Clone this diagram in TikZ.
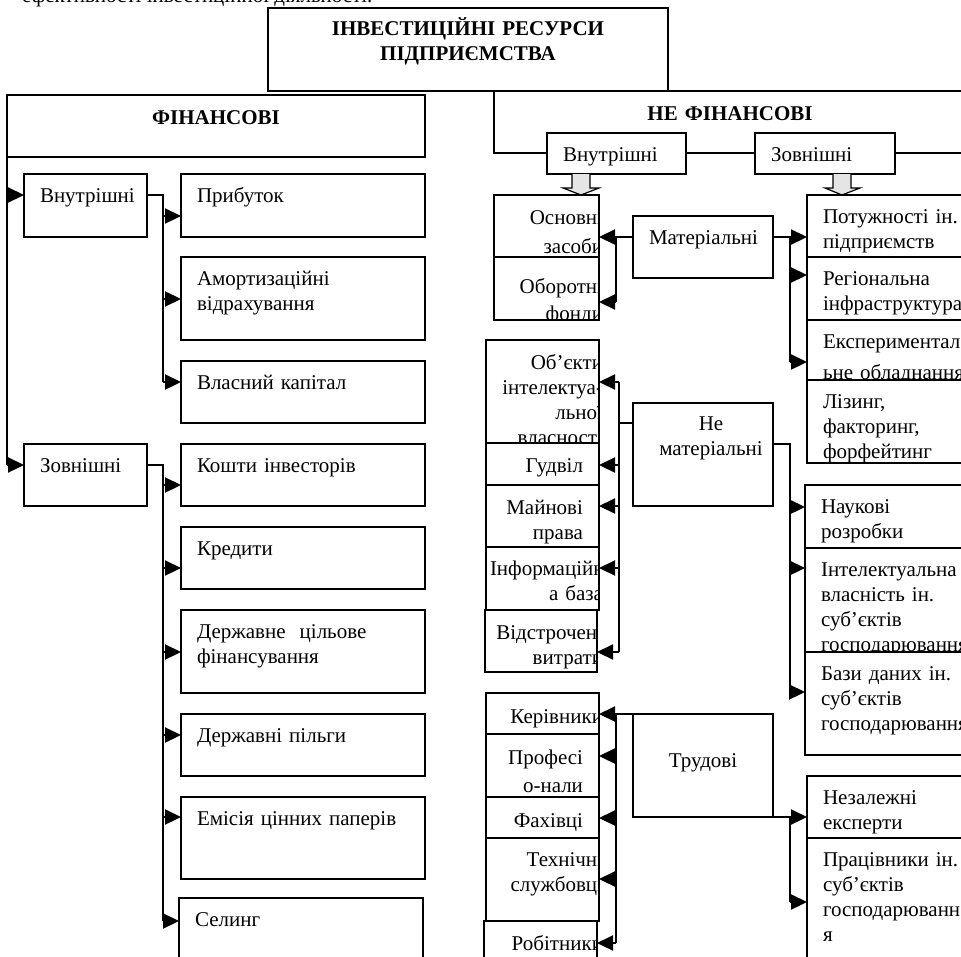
\documentclass[tikz,border=0pt]{standalone}
\usepackage{fontspec}
\setmainfont{Liberation Serif}
\usetikzlibrary{fit}
\usetikzlibrary{arrows.meta}
\tikzset{
    box/.style={draw, line width=2.2pt, fill=white, inner sep=0pt, outer sep=0pt},
    txt/.style={font=\fontsize{21}{25}\selectfont, inner sep=0pt, draw=none, fill=none},
    tl/.style={path picture={\node[txt, anchor=base west, align=left] at ([shift={(16pt,-28pt)}]path picture bounding box.north west) {#1};}},
    tr/.style 2 args={path picture={\node[txt, anchor=base east, align=right] at ([shift={#1}]path picture bounding box.north east) {#2};}},
    tc/.style 2 args={path picture={\node[txt, anchor=base, align=center] at ([shift={#1}]path picture bounding box.north) {#2};}},
    conn/.style={line width=2.2pt},
    conn arrow/.style={line width=2.2pt, -{Triangle[length=16pt,width=15pt]}},
    block arrow/.style={draw, line width=1.2pt, fill=gray!20}
}
\begin{document}
\begin{tikzpicture}[x=1pt, y=-1pt]
    \useasboundingbox (0,0) rectangle (961,956);
    \node[txt, anchor=base west] (intro) at (22,2) {ефективності інвестиційної діяльності.};
    \node[box, fit={(494,91) (966,153)}, tc={(0pt,-29pt)}{\textbf{НЕ ФІНАНСОВІ}}] (nefin) {};
    \node[box, fit={(268,8) (668,91)}, tc={(0pt,-27pt)}{\textbf{ІНВЕСТИЦІЙНІ РЕСУРСИ}\\\textbf{ПІДПРИЄМСТВА}}] (res) {};
    \node[box, fit={(7,95) (425,157)}, tc={(0pt,-29pt)}{\textbf{ФІНАНСОВІ}}] (fin) {};

    % financial
    \node[box, fit={(24,174) (147,237)}, tl={Внутрішні}] (fvn) {};
    \node[box, fit={(24,444) (147,506)}, tl={Зовнішні}] (fzov) {};
    \node[box, fit={(181,174) (425,237)}, tl={Прибуток}] (prib) {};
    \node[box, fit={(181,257) (425,340)}, tl={Амортизаційні\\відрахування}] (amort) {};
    \node[box, fit={(181,361) (425,423)}, tl={Власний капітал}] (vlas) {};
    \node[box, fit={(181,444) (425,506)}, tl={Кошти інвесторів}] (kosh) {};
    \node[box, fit={(181,527) (425,589)}, tl={Кредити}] (kred) {};
    \node[box, fit={(181,610) (425,693)}, tl={Державне\ \ цільове\\фінансування}] (dcf) {};
    \node[box, fit={(181,714) (425,776)}, tl={Державні пільги}] (dpil) {};
    \node[box, fit={(181,797) (425,879)}, tl={Емісія цінних паперів}] (emis) {};
    \node[box, fit={(179,898) (423,975)}, tl={Селинг}] (sel) {};
    \draw[conn] (fin.south west) -- (7,465)
        (7,195) edge[conn arrow] (fvn.west |- 0,195)
        (7,465) edge[conn arrow] (fzov.west |- 0,465);
    \draw[conn] (fvn.east |- 0,195) -| (163,382)
        (163,216) edge[conn arrow] (prib.west |- 0,216)
        (163,299) edge[conn arrow] (amort.west |- 0,299)
        (163,382) edge[conn arrow] (vlas.west |- 0,382);
    \draw[conn] (fzov.east |- 0,465) -| (163,921)
        (163,485) edge[conn arrow] (kosh.west |- 0,485)
        (163,568) edge[conn arrow] (kred.west |- 0,568)
        (163,652) edge[conn arrow] (dcf.west |- 0,652)
        (163,735) edge[conn arrow] (dpil.west |- 0,735)
        (163,817) edge[conn arrow] (emis.west |- 0,817)
        (163,921) edge[conn arrow] (sel.west |- 0,921);

    % non financial
    \node[box, fit={(547,133) (686,174)}, tl={Внутрішні}] (nvn) {};
    \node[box, fit={(755,133) (895,174)}, tl={Зовнішні}] (nzov) {};
    \draw[block arrow] (572,174) -- (572,188) -- (563,188) -- (581,195) -- (599,188) -- (590,188) -- (590,174);
    \draw[block arrow] (833,174) -- (833,188) -- (825,188) -- (842,195) -- (860,188) -- (851,188) -- (851,174);

    \node[box, fit={(494,195) (599,257)}, tr={(4pt,-29pt)}{Основні\\[4pt]засоби}] (osn) {};
    \node[box, fit={(494,257) (599,320)}, tr={(4pt,-36pt)}{Оборотні\\[2pt]фонди}] (obor) {};
    \node[box, fit={(633,216) (773,278)}, tl={Матеріальні}] (mat) {};
    \node[box, fit={(807,195) (975,257)}, tl={Потужності ін.\\підприємств}] (potu) {};
    \node[box, fit={(807,257) (975,320)}, tl={Регіональна\\інфраструктура}] (reg) {};
    \node[box, fit={(807,320) (975,380)}, tl={Експериментал\\[6pt]ьне обладнання}] (eksp) {};
    \node[box, fit={(807,380) (975,463)}, tl={Лізинг,\\факторинг,\\форфейтинг}] (liz) {};
    \draw[conn arrow] (mat.west |- 0,237) -- (osn.east |- 0,237);
    \draw[conn] (616,237) -- (616,302) edge[conn arrow] (obor.east |- 0,302);
    \draw[conn arrow] (mat.east |- 0,237) -- (potu.west |- 0,237);
    \draw[conn] (790,237) -- (790,362)
        (790,275) edge[conn arrow] (reg.west |- 0,275)
        (790,362) edge[conn arrow] (eksp.west |- 0,362);

    \node[box, fit={(486,340) (599,443)}, tr={(4pt,-29pt)}{Об’єкти\\інтелектуа-\\льної\\власності}] (obj) {};
    \node[box, fit={(486,443) (599,485)}, tr={(-16pt,-29pt)}{Гудвіл}] (gudv) {};
    \node[box, fit={(486,485) (599,547)}, tr={(-16pt,-29pt)}{Майнові\\права}] (majn) {};
    \node[box, fit={(486,547) (599,610)}, tr={(4pt,-28pt)}{Інформаційн\\а база}] (inf) {};
    \node[box, fit={(485,610) (597,672)}, tr={(6pt,-29pt)}{Відстрочені\\витрати}] (vids) {};
    \node[box, fit={(633,403) (773,506)}, tc={(8pt,-27pt)}{Не\\матеріальні}] (nemat) {};
    \node[box, fit={(805,485) (975,548)}, tl={Наукові\\розробки}] (nauk) {};
    \node[box, fit={(805,548) (975,652)}, tl={Інтелектуальна\\власність ін.\\суб’єктів\\господарювання}] (intel) {};
    \node[box, fit={(805,652) (975,755)}, tl={Бази даних ін.\\суб’єктів\\господарювання}] (bazy) {};
    \draw[conn] (nemat.west |- 0,423) -- (619,423);
    \draw[conn] (619,382) -- (619,652)
        (619,382) edge[conn arrow] (obj.east |- 0,382)
        (619,465) edge[conn arrow] (gudv.east |- 0,465)
        (619,506) edge[conn arrow] (majn.east |- 0,506)
        (619,568) edge[conn arrow] (inf.east |- 0,568)
        (619,652) edge[conn arrow] (vids.east |- 0,652);
    \draw[conn] (nemat.east |- 0,444) -| (790,692)
        (790,507) edge[conn arrow] (nauk.west |- 0,507)
        (790,568) edge[conn arrow] (intel.west |- 0,568)
        (790,692) edge[conn arrow] (bazy.west |- 0,692);

    \node[box, fit={(486,693) (599,734)}, tr={(4pt,-30pt)}{Керівники}] (kerv) {};
    \node[box, fit={(486,734) (599,797)}, tr={(-16pt,-30pt)}{Професі\\[3pt]о-нали}] (prof) {};
    \node[box, fit={(486,797) (599,838)}, tr={(-16pt,-30pt)}{Фахівці}] (fah) {};
    \node[box, fit={(486,838) (599,921)}, tr={(4pt,-28pt)}{Технічні\\службовці}] (tehn) {};
    \node[box, fit={(484,921) (597,975)}, tr={(6pt,-29pt)}{Робітники}] (robt) {};
    \node[box, fit={(633,714) (773,817)}, tc={(0pt,-53pt)}{Трудові}] (trud) {};
    \node[box, fit={(807,776) (975,838)}, tl={Незалежні\\експерти}] (nez) {};
    \node[box, fit={(807,838) (975,975)}, tl={Працівники ін.\\суб’єктів\\господарюванн\\я}] (prac) {};
    \draw[conn arrow] (trud.north west) -- (kerv.east |- 0,714);
    \draw[conn] (616,714) -- (616,943)
        (616,756) edge[conn arrow] (prof.east |- 0,756)
        (616,818) edge[conn arrow] (fah.east |- 0,818)
        (616,879) edge[conn arrow] (tehn.east |- 0,879)
        (616,943) edge[conn arrow] (robt.east |- 0,943);
    \draw[conn arrow] (trud.south east) -- (nez.west |- 0,817);
    \draw[conn] (790,817) -- (790,902) edge[conn arrow] (prac.west |- 0,902);
\end{tikzpicture}
\end{document}
